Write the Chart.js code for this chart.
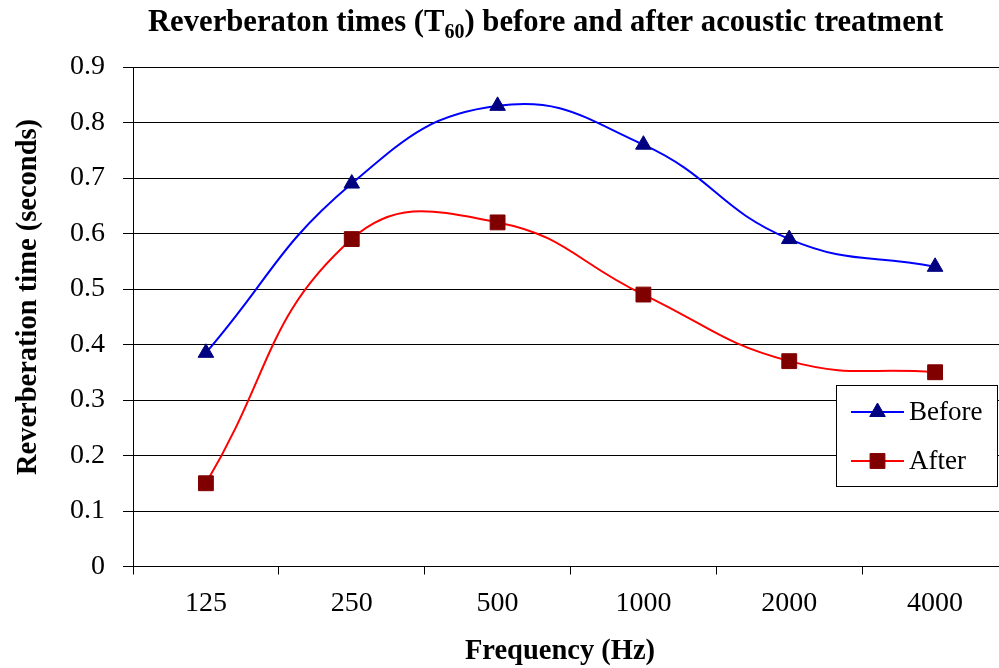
<!DOCTYPE html>
<html>
<head>
<meta charset="utf-8">
<script src="https://cdn.jsdelivr.net/npm/chart.js@4.4.1/dist/chart.umd.min.js"></script>
<style>
  html, body { margin: 0; padding: 0; background: #fff; overflow: hidden; }
  #wrap { width: 1010px; height: 668px; }
</style>
</head>
<body>
<div id="wrap"><canvas id="rtChart" width="1010" height="668"></canvas></div>
<script>
// Fréquences (Hz) et temps de réverbération (s)
const frequencies = ['125', '250', '500', '1000', '2000', '4000'];
const beforeValues = [0.385, 0.69, 0.83, 0.76, 0.59, 0.54];
const afterValues = [0.15, 0.59, 0.62, 0.49, 0.37, 0.35];
const yTickLabels = ['0', '0.1', '0.2', '0.3', '0.4', '0.5', '0.6', '0.7', '0.8', '0.9'];

const SERIF = '"Liberation Serif", "Times New Roman", serif';

// Titre, titres d'axes et légende dessinés à la main (indice "60")
const decorPlugin = {
    id: 'decor',
    afterDraw(chart) {
        const ctx = chart.ctx;
        ctx.save();
        ctx.fillStyle = '#000';
        ctx.textBaseline = 'alphabetic';

        // titre avec indice
        const big = 'bold 30.7px ' + SERIF;
        const small = 'bold 20px ' + SERIF;
        const parts = [
            { t: 'Reverberaton times (T', f: big, dy: 0 },
            { t: '60', f: small, dy: 7 },
            { t: ') before and after acoustic treatment', f: big, dy: 0 }
        ];
        let total = 0;
        parts.forEach(p => { ctx.font = p.f; p.w = ctx.measureText(p.t).width; total += p.w; });
        let x = 545.5 - total / 2;
        ctx.textAlign = 'left';
        parts.forEach(p => { ctx.font = p.f; ctx.fillText(p.t, x, 31 + p.dy); x += p.w; });

        // titre de l'axe X
        ctx.font = 'bold 28.5px ' + SERIF;
        ctx.textAlign = 'center';
        ctx.fillText('Frequency (Hz)', 560, 659);

        // titre de l'axe Y
        ctx.save();
        ctx.translate(36, 297);
        ctx.rotate(-Math.PI / 2);
        ctx.fillText('Reverberation time (seconds)', 0, 0);
        ctx.restore();

        // légende
        ctx.fillStyle = '#fff';
        ctx.fillRect(836.5, 385.5, 161, 101);
        ctx.strokeStyle = '#000';
        ctx.lineWidth = 1;
        ctx.strokeRect(836.5, 385.5, 161, 101);
        const rows = [412, 461];
        chart.data.datasets.forEach((ds, i) => {
            const y = rows[i];
            ctx.strokeStyle = ds.borderColor;
            ctx.lineWidth = ds.borderWidth;
            ctx.beginPath();
            ctx.moveTo(851, y);
            ctx.lineTo(904, y);
            ctx.stroke();
            ctx.fillStyle = ds.pointBackgroundColor;
            ctx.strokeStyle = ds.pointBorderColor;
            ctx.lineWidth = 1;
            Chart.helpers.drawPoint(ctx, { pointStyle: ds.pointStyle, radius: ds.pointRadius, borderWidth: 1, rotation: 0 }, 877.5, y);
            ctx.fillStyle = '#000';
            ctx.font = '27px ' + SERIF;
            ctx.textAlign = 'left';
            ctx.textBaseline = 'middle';
            ctx.fillText(ds.label, 909, y + 1);
        });
        ctx.restore();
    }
};

const ctx = document.getElementById('rtChart').getContext('2d');
new Chart(ctx, {
    type: 'line',
    data: {
        labels: frequencies,
        datasets: [{
            label: 'Before',
            data: beforeValues,
            borderColor: '#0000ff',
            borderWidth: 2,
            pointStyle: 'triangle',
            pointRadius: 9,
            pointBackgroundColor: '#000080',
            pointBorderColor: '#000080',
            pointBorderWidth: 1,
            tension: 0.45
        }, {
            label: 'After',
            data: afterValues,
            borderColor: '#ff0000',
            borderWidth: 2,
            pointStyle: 'rect',
            pointRadius: 10.5,
            pointBackgroundColor: '#800000',
            pointBorderColor: '#800000',
            pointBorderWidth: 1,
            tension: 0.45
        }]
    },
    options: {
        responsive: false,
        animation: false,
        devicePixelRatio: 1,
        // le canvas fait 1010 px : la zone de tracé déborde à droite comme dans l'original
        layout: { autoPadding: false, padding: { top: 67, right: 2, bottom: 0, left: 0 } },
        plugins: {
            legend: { display: false },
            title: { display: false },
            tooltip: { enabled: false }
        },
        scales: {
            x: {
                offset: true,
                afterFit: s => { s.height = 101.5; s.paddingLeft = 0; s.paddingRight = 0; },
                grid: { offset: true, drawOnChartArea: false, drawTicks: true, tickLength: 8, color: '#000' },
                border: { color: '#000', width: 1 },
                ticks: { color: '#000', font: { family: SERIF, size: 28 }, padding: 12, maxRotation: 0, autoSkip: false }
            },
            y: {
                min: 0,
                max: 0.9,
                afterFit: s => { s.width = 133; },
                grid: { color: '#000', lineWidth: 1, tickLength: 10 },
                border: { color: '#000', width: 1 },
                ticks: {
                    stepSize: 0.1,
                    color: '#000',
                    padding: 18,
                    font: { family: SERIF, size: 28 },
                    callback: (v, i) => yTickLabels[i]
                }
            }
        }
    },
    plugins: [decorPlugin]
});
</script>
</body>
</html>
